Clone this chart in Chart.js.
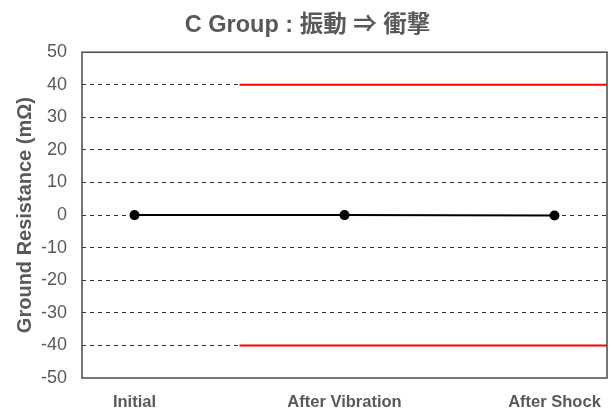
<!DOCTYPE html>
<html>
<head>
<meta charset="utf-8">
<script src="https://cdn.jsdelivr.net/npm/chart.js@4"></script>
<style>
  body { margin: 0; background: #fff; }
</style>
</head>
<body>
<canvas id="groundChart" width="613" height="415"></canvas>
<script>
// chart data
var categories = ["Initial", "After Vibration", "After Shock"];
var resistance = [0, 0, -0.1];
var upperLimit = 40;
var lowerLimit = -40;
// limit lines run from halfway between Initial / After Vibration to the right edge
var limitFrom = 0.5;
var limitTo = 2.25;
var yTicks = [-50, -40, -30, -20, -10, 0, 10, 20, 30, 40, 50];

var textGray = "#595959";
var sans = "'Liberation Sans', Arial, 'Noto Sans CJK JP', sans-serif";

var boxPlugin = {
    id: 'plotBox',
    afterDraw: function(chart) {
        var a = chart.chartArea;
        var c = chart.ctx;
        c.save();
        c.strokeStyle = "#4a4a4a";
        c.lineWidth = 1.5;
        c.strokeRect(a.left, a.top, a.right - a.left, a.bottom - a.top);
        c.restore();
    }
};

var ctx = document.getElementById('groundChart').getContext('2d');
var myChart = new Chart(ctx, {
    type: 'line',
    data: {
        datasets: [{
            data: categories.map(function(c, i) { return { x: i, y: resistance[i] }; }),
            borderColor: "#000",
            backgroundColor: "#000",
            borderWidth: 2,
            pointRadius: 4,
            pointHoverRadius: 4,
            order: 1
        }, {
            data: [{ x: limitFrom, y: upperLimit }, { x: limitTo, y: upperLimit }],
            borderColor: "#ff0000",
            borderWidth: 2,
            pointRadius: 0,
            order: 2
        }, {
            data: [{ x: limitFrom, y: lowerLimit }, { x: limitTo, y: lowerLimit }],
            borderColor: "#ff0000",
            borderWidth: 2,
            pointRadius: 0,
            order: 2
        }]
    },
    options: {
        responsive: false,
        animation: false,
        layout: { padding: { left: 8, right: 6, top: 0, bottom: 2 } },
        plugins: {
            legend: { display: false },
            tooltip: { enabled: false },
            title: {
                display: true,
                text: "C Group : 振動 ⇒ 衝撃",
                color: textGray,
                font: { family: sans, size: 23.5, weight: 'bold' },
                padding: { top: 11, bottom: 13 }
            }
        },
        scales: {
            x: {
                type: 'linear',
                min: -0.25,
                max: 2.25,
                afterBuildTicks: function(axis) {
                    axis.ticks = categories.map(function(c, i) { return { value: i }; });
                },
                afterFit: function(s) {
                    s.height = 35;
                    s.paddingLeft = 0; s.paddingRight = 0;
                    s.paddingTop = 0; s.paddingBottom = 0;
                },
                ticks: {
                    callback: function(v) { return categories[v]; },
                    color: textGray,
                    font: { family: sans, size: 16.5, weight: 'bold' },
                    padding: 15,
                    maxRotation: 0,
                    autoSkip: false
                },
                grid: { display: false, drawTicks: false },
                border: { display: false }
            },
            y: {
                min: -50,
                max: 50,
                afterBuildTicks: function(axis) {
                    axis.ticks = yTicks.map(function(v) { return { value: v }; });
                },
                afterFit: function(s) {
                    s.width = 74;
                    s.paddingTop = 0; s.paddingBottom = 0;
                },
                ticks: {
                    color: textGray,
                    font: { family: sans, size: 18 },
                    padding: 15
                },
                grid: {
                    drawTicks: false,
                    color: function(c) {
                        var v = c.tick ? c.tick.value : 0;
                        return (v === 50 || v === -50) ? 'rgba(0,0,0,0)' : '#333';
                    },
                    lineWidth: 1
                },
                border: { display: false, dash: [4, 4] },
                title: {
                    display: true,
                    text: "Ground Resistance (mΩ)",
                    color: textGray,
                    font: { family: sans, size: 20, weight: 'bold' },
                    padding: { top: 5, bottom: 4 }
                }
            }
        }
    },
    plugins: [boxPlugin]
});
</script>
</body>
</html>
